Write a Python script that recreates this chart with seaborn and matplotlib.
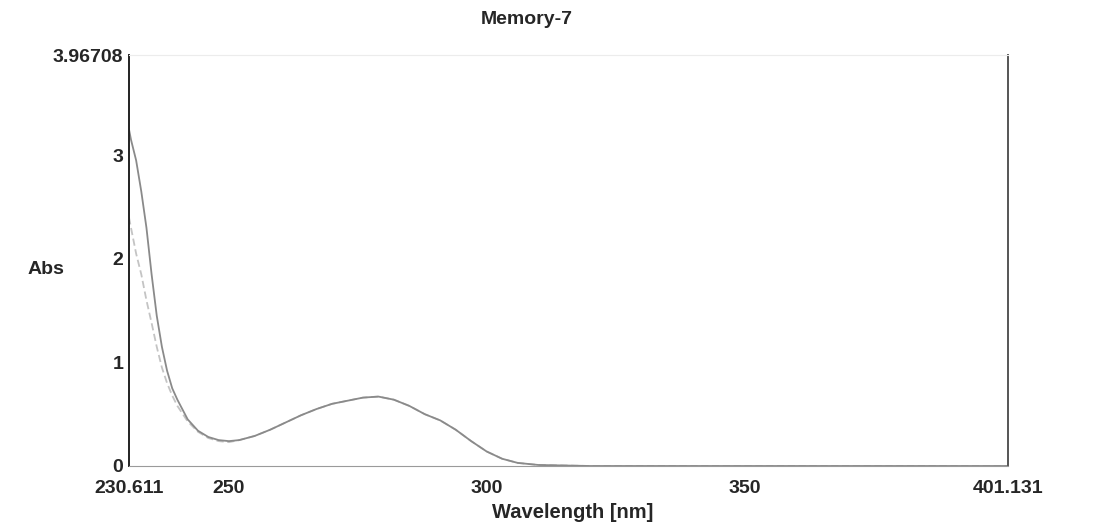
import numpy as np
import pandas as pd
import seaborn as sns
import matplotlib.pyplot as plt

# spectrum
WAVELENGTH = [230.611, 231, 232, 233, 234, 235, 236, 237, 238, 239, 240, 242, 244, 246, 248,
              250, 252, 255, 258, 261, 264, 267, 270, 273, 276, 279, 282, 285, 288, 291,
              294, 297, 300, 303, 306, 310, 320, 340, 360, 380, 401.131]
ABS_A = [3.25, 3.15, 2.95, 2.65, 2.3, 1.85, 1.45, 1.15, 0.92, 0.75, 0.64, 0.45, 0.34, 0.28, 0.25,
         0.24, 0.25, 0.29, 0.35, 0.42, 0.49, 0.55, 0.6, 0.63, 0.66, 0.67, 0.64, 0.58, 0.5, 0.44,
         0.35, 0.24, 0.14, 0.07, 0.03, 0.01, 0.0, 0.0, 0.0, 0.0, 0.0]
ABS_B = [2.4, 2.3, 2.05, 1.85, 1.6, 1.38, 1.15, 0.95, 0.8, 0.68, 0.58, 0.43, 0.33, 0.27, 0.24,
         0.23, 0.25, 0.29, 0.35, 0.42, 0.49, 0.55, 0.6, 0.63, 0.66, 0.67, 0.64, 0.58, 0.5, 0.44,
         0.35, 0.24, 0.14, 0.07, 0.03, 0.01, 0.0, 0.0, 0.0, 0.0, 0.0]

X_TICKS = [230.611, 250, 300, 350, 401.131]
X_LABELS = ['230.611', '250', '300', '350', '401.131']
Y_TICKS = [0, 1, 2, 3, 3.96708]
Y_LABELS = ['0', '1', '2', '3', '3.96708']

sns.set_style('white')
plt.rcParams['font.family'] = ['Liberation Sans', 'DejaVu Sans']

df = pd.DataFrame({'wl': WAVELENGTH, 'a': ABS_A, 'b': ABS_B})

fig = plt.figure(figsize=(11.09, 5.23), dpi=100)
ax = fig.add_axes([0.1163, 0.109, 0.7926, 0.7858])

sns.lineplot(data=df, x='wl', y='b', ax=ax, color='#c4c4c4', lw=1.3, linestyle=(0, (4, 2)))
sns.lineplot(data=df, x='wl', y='a', ax=ax, color='#8a8a8a', lw=1.3)

ax.set_xlim(230.611, 401.131)
ax.set_ylim(0, 3.96708)
ax.set_xticks(X_TICKS)
ax.set_xticklabels(X_LABELS)
ax.set_xticks([275, 325, 375], minor=True)
ax.set_yticks(Y_TICKS)
ax.set_yticklabels(Y_LABELS)
ax.tick_params(axis='both', which='both', direction='in', length=5, width=1,
               color='#777777', labelsize=14)
ax.tick_params(axis='x', pad=10)
ax.tick_params(axis='y', pad=4)
for lab in ax.get_xticklabels() + ax.get_yticklabels():
    lab.set_fontweight('bold')
ax.set_xlabel('')
ax.set_ylabel('')

ax.spines['left'].set_color('#222222')
ax.spines['left'].set_linewidth(1.4)
ax.spines['right'].set_color('#555555')
ax.spines['right'].set_linewidth(1.4)
ax.spines['top'].set_color('#ececec')
ax.spines['bottom'].set_color('#9a9a9a')

fig.text(527 / 1109, 1 - 20 / 523, 'Memory-7', ha='center', va='center',
         fontsize=14, fontweight='bold')
fig.text(46 / 1109, 1 - 270 / 523, 'Abs', ha='center', va='center',
         fontsize=14, fontweight='bold')
fig.text(573 / 1109, 1 - 512 / 523, 'Wavelength [nm]', ha='center', va='center',
         fontsize=14.5, fontweight='bold')

plt.savefig('out.png', dpi=100)
plt.close()
